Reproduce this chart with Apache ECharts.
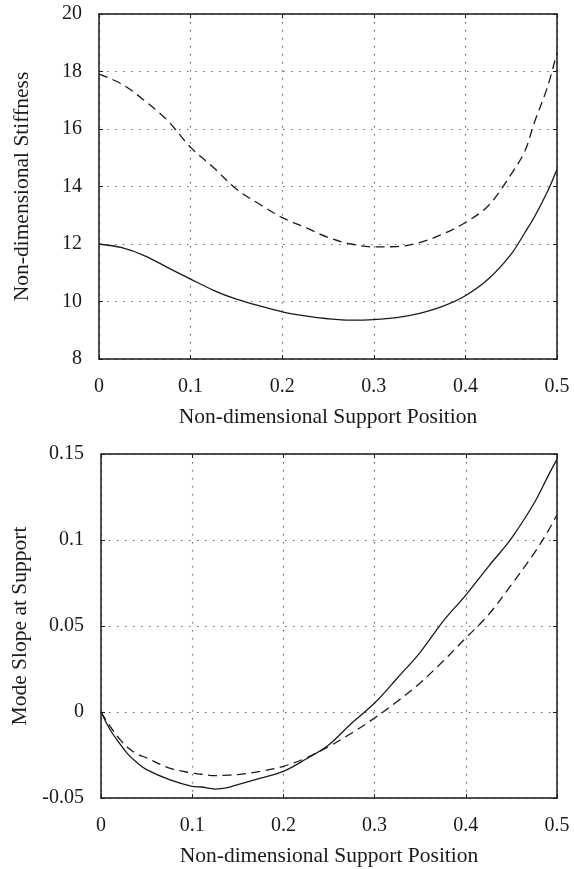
<!DOCTYPE html>
<html>
<head>
<meta charset="utf-8">
<script src="https://cdn.jsdelivr.net/npm/echarts@6/dist/echarts.min.js"></script>
<style>
  html, body { margin: 0; padding: 0; background: #fff; }
  #chart { width: 574px; height: 869px; }
</style>
</head>
<body>
<div id="chart"></div>
<script>
// top plot: stiffness vs support position
const stiffX = [0, 0.025, 0.05, 0.075, 0.1, 0.125, 0.15, 0.175, 0.2, 0.225, 0.25, 0.275, 0.3, 0.325, 0.35, 0.375, 0.4, 0.425, 0.45, 0.465, 0.475, 0.49, 0.5];
const stiffSolid = [12.0, 11.87, 11.59, 11.18, 10.78, 10.39, 10.08, 9.85, 9.64, 9.50, 9.40, 9.35, 9.37, 9.44, 9.59, 9.83, 10.20, 10.78, 11.65, 12.4, 12.92, 13.85, 14.6];
const stiffDashed = [17.91, 17.56, 16.98, 16.29, 15.36, 14.66, 13.91, 13.39, 12.92, 12.58, 12.23, 12.0, 11.90, 11.91, 12.05, 12.34, 12.75, 13.33, 14.43, 15.24, 16.2, 17.5, 18.67];

// bottom plot: mode slope at support
const slopeX = [0, 0.01, 0.02, 0.03, 0.04, 0.05, 0.075, 0.1, 0.11, 0.125, 0.14, 0.15, 0.175, 0.2, 0.225, 0.25, 0.275, 0.3, 0.325, 0.35, 0.375, 0.4, 0.425, 0.45, 0.475, 0.49, 0.5];
const slopeSolid = [0, -0.0103, -0.018, -0.0248, -0.0297, -0.0335, -0.0393, -0.0432, -0.0436, -0.0448, -0.0438, -0.0422, -0.0384, -0.0345, -0.0273, -0.019, -0.0064, 0.0052, 0.0198, 0.0347, 0.0527, 0.068, 0.0847, 0.101, 0.1215, 0.137, 0.147];
const slopeDashed = [0, -0.0083, -0.0155, -0.021, -0.0245, -0.0267, -0.0326, -0.0355, -0.0362, -0.037, -0.0367, -0.0364, -0.0345, -0.0316, -0.0267, -0.02, -0.0122, -0.0035, 0.0062, 0.0169, 0.0295, 0.043, 0.0566, 0.074, 0.0924, 0.105, 0.1147];

const xTitle = 'Non-dimensional Support Position';
const yTitles = ['Non-dimensional Stiffness', 'Mode Slope at Support'];

const FONT = 'Liberation Serif';
const INK = '#1a1a1a';

const pairs = (xs, ys) => xs.map((x, i) => [x, ys[i]]);

const frameLine = { show: true, onZero: false, lineStyle: { color: INK, width: 1.5 } };
const innerTick = { show: true, inside: true, length: 4, lineStyle: { color: INK, width: 1 } };
const dotted = { show: true, lineStyle: { color: '#666', width: 1.2, type: [1.5, 6.5] } };
const labelStyle = { color: INK, fontFamily: FONT, fontSize: 20 };
const nameStyle = { color: INK, fontFamily: FONT, fontSize: 21.5 };

// main axis with labels + a mirror axis that only draws the frame and ticks
const xAxes = (gridIndex) => [
    {
        type: 'value', gridIndex, position: 'bottom', min: 0, max: 0.5, interval: 0.1,
        axisLine: frameLine, axisTick: innerTick, splitLine: dotted,
        axisLabel: { ...labelStyle, margin: 18 },
        name: xTitle, nameLocation: 'middle', nameGap: 47, nameTextStyle: nameStyle
    },
    {
        type: 'value', gridIndex, position: 'top', min: 0, max: 0.5, interval: 0.1,
        axisLine: frameLine, axisTick: innerTick, splitLine: { show: false }, axisLabel: { show: false }
    }
];

const yAxes = (gridIndex, min, max, interval, name) => [
    {
        type: 'value', gridIndex, position: 'left', min, max, interval,
        axisLine: frameLine, axisTick: innerTick, splitLine: dotted,
        axisLabel: { ...labelStyle, margin: 17 },
        name, nameLocation: 'middle', nameGap: 66, nameTextStyle: nameStyle
    },
    {
        type: 'value', gridIndex, position: 'right', min, max, interval,
        axisLine: frameLine, axisTick: innerTick, splitLine: { show: false }, axisLabel: { show: false }
    }
];

const lineSeries = (xAxisIndex, yAxisIndex, data, dashed) => ({
    type: 'line',
    xAxisIndex, yAxisIndex,
    data,
    showSymbol: false,
    smooth: 0.35,
    silent: true,
    lineStyle: { color: INK, width: 1.3, type: dashed ? [9, 5.5] : 'solid' },
    z: 3
});

const chart = echarts.init(document.getElementById('chart'), null, { renderer: 'canvas' });

chart.setOption({
    animation: false,
    backgroundColor: '#fff',
    grid: [
        { left: 99, top: 14, width: 458, height: 345 },
        { left: 101, top: 454, width: 456, height: 344 }
    ],
    xAxis: [...xAxes(0), ...xAxes(1)],
    yAxis: [
        ...yAxes(0, 8, 20, 2, yTitles[0]),
        ...yAxes(1, -0.05, 0.15, 0.05, yTitles[1])
    ],
    series: [
        lineSeries(0, 0, pairs(stiffX, stiffSolid), false),
        lineSeries(0, 0, pairs(stiffX, stiffDashed), true),
        lineSeries(2, 2, pairs(slopeX, slopeSolid), false),
        lineSeries(2, 2, pairs(slopeX, slopeDashed), true)
    ]
});
</script>
</body>
</html>
